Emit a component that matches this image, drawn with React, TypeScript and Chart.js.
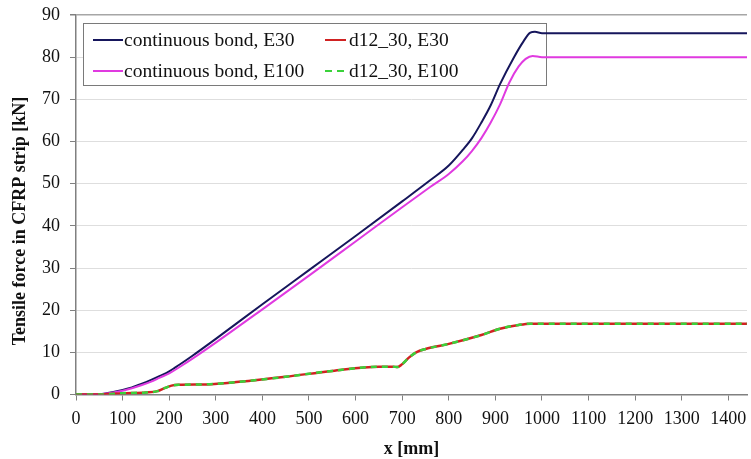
import React, { useEffect, useRef } from "react";
import { Chart, registerables } from "chart.js";

Chart.register(...registerables);

// ---------- data ----------
const xTicks = [0, 100, 200, 300, 400, 500, 600, 700, 800, 900, 1000, 1100, 1200, 1300, 1400];
const yTicks = [0, 10, 20, 30, 40, 50, 60, 70, 80, 90];

const contE30X = [0, 40, 60, 80, 100, 120, 140, 160, 180, 200, 225, 250, 300, 400, 500, 600, 700, 760, 800, 830, 850, 870, 890, 910, 940, 960, 975, 985, 1000, 1440];
const contE30Y = [0, 0, 0.2, 0.6, 1.1, 1.7, 2.5, 3.4, 4.4, 5.5, 7.3, 9.2, 13.2, 21.4, 29.5, 37.6, 45.8, 50.8, 54.3, 58.0, 60.8, 64.5, 68.6, 73.6, 80.0, 83.7, 85.8, 86.0, 85.7, 85.7];

const contE100X = [0, 40, 60, 80, 100, 120, 140, 160, 180, 200, 225, 250, 300, 400, 500, 600, 700, 760, 800, 830, 850, 870, 890, 910, 930, 950, 965, 980, 1000, 1440];
const contE100Y = [0, 0, 0.2, 0.5, 0.9, 1.5, 2.2, 3.0, 4.0, 5.0, 6.7, 8.5, 12.3, 20.2, 28.2, 36.3, 44.4, 49.2, 52.3, 55.3, 57.8, 60.8, 64.5, 68.8, 74.0, 77.8, 79.6, 80.3, 80.0, 80.0];

const d12E30X = [0, 50, 100, 150, 175, 190, 205, 220, 280, 350, 450, 550, 650, 680, 690, 700, 715, 730, 750, 800, 870, 910, 950, 975, 1440];
const d12E30Y = [0, 0, 0.3, 0.5, 0.8, 1.5, 2.1, 2.3, 2.4, 3.0, 4.2, 5.6, 6.6, 6.6, 6.5, 7.2, 8.8, 10.0, 10.8, 12.0, 14.1, 15.6, 16.5, 16.8, 16.8];

const d12E100X = [0, 50, 100, 150, 175, 190, 205, 220, 280, 350, 450, 550, 650, 680, 690, 700, 715, 730, 750, 800, 870, 910, 950, 975, 1440];
const d12E100Y = [0, 0, 0.3, 0.5, 0.8, 1.5, 2.1, 2.3, 2.4, 3.0, 4.2, 5.6, 6.6, 6.6, 6.5, 7.2, 8.8, 10.0, 10.8, 12.0, 14.1, 15.6, 16.5, 16.8, 16.8];

const seriesLabels = ["continuous bond, E30", "d12_30, E30", "continuous bond, E100", "d12_30, E100"];
const xTitle = "x [mm]";
const yTitle = "Tensile force in CFRP strip [kN]";

// ---------- styles ----------
const NAVY = "#16165c";
const MAGENTA = "#e03ae0";
const RED = "#d02222";
const GREEN = "#3ad23a";
const FONT = "'Liberation Serif', 'Times New Roman', serif";

const pts = (xs: number[], ys: number[]) => xs.map((x, i) => ({ x, y: ys[i] }));

const overlayPlugin = {
  id: "overlay",
  beforeDatasetsDraw(chart: any) {
    const ctx = chart.ctx;
    ctx.save();
    // legend box
    const bx = 83.5, by = 23.5, bw = 463, bh = 62;
    ctx.fillStyle = "#ffffff";
    ctx.fillRect(bx, by, bw, bh);
    ctx.strokeStyle = "#7a7a7a";
    ctx.lineWidth = 1;
    ctx.strokeRect(bx, by, bw, bh);

    const entries = [
      { label: seriesLabels[0], color: NAVY, dash: [] as number[], x: 93, len: 30, tx: 124, y: 40 },
      { label: seriesLabels[1], color: RED, dash: [] as number[], x: 325, len: 21, tx: 349, y: 40 },
      { label: seriesLabels[2], color: MAGENTA, dash: [] as number[], x: 93, len: 30, tx: 124, y: 71 },
      { label: seriesLabels[3], color: GREEN, dash: [7, 5], x: 325, len: 21, tx: 349, y: 71 },
    ];
    ctx.font = `19.5px ${FONT}`;
    ctx.textBaseline = "middle";
    ctx.textAlign = "left";
    for (const e of entries) {
      ctx.beginPath();
      ctx.setLineDash(e.dash);
      ctx.strokeStyle = e.color;
      ctx.lineWidth = 2;
      ctx.moveTo(e.x, e.y);
      ctx.lineTo(e.x + e.len, e.y);
      ctx.stroke();
      ctx.setLineDash([]);
      ctx.fillStyle = "#111";
      ctx.fillText(e.label, e.tx, e.y + 1);
    }
    ctx.restore();
  },
  afterDraw(chart: any) {
    const ctx = chart.ctx;
    const area = chart.chartArea;
    ctx.save();
    ctx.fillStyle = "#111";
    ctx.font = `bold 18px ${FONT}`;
    ctx.textAlign = "center";
    ctx.textBaseline = "alphabetic";
    ctx.fillText(xTitle, (area.left + area.right) / 2, 453.5);
    ctx.translate(20, 221);
    ctx.rotate(-Math.PI / 2);
    ctx.textBaseline = "middle";
    ctx.fillText(yTitle, 0, 0);
    ctx.restore();
  },
};

export default function App() {
  const ref = useRef<HTMLCanvasElement | null>(null);

  useEffect(() => {
    document.body.style.margin = "0";
    const canvas = ref.current;
    if (!canvas) return;
    const chart = new Chart(canvas, {
      type: "line",
      data: {
        datasets: [
          {
            label: seriesLabels[3],
            data: pts(d12E100X, d12E100Y),
            borderColor: GREEN,
            borderWidth: 2.5,
            borderDash: [6, 5],
            order: 0,
          },
          {
            label: seriesLabels[1],
            data: pts(d12E30X, d12E30Y),
            borderColor: RED,
            borderWidth: 2.5,
            order: 1,
          },
          {
            label: seriesLabels[2],
            data: pts(contE100X, contE100Y),
            borderColor: MAGENTA,
            borderWidth: 2,
            order: 2,
          },
          {
            label: seriesLabels[0],
            data: pts(contE30X, contE30Y),
            borderColor: NAVY,
            borderWidth: 2,
            order: 3,
          },
        ],
      },
      options: {
        animation: false,
        responsive: false,
        maintainAspectRatio: false,
        devicePixelRatio: 1,
        events: [],
        elements: {
          point: { radius: 0 },
          line: { cubicInterpolationMode: "monotone", fill: false },
        },
        layout: { padding: { top: 15, right: 4, left: 0, bottom: 0 } },
        plugins: { legend: { display: false }, tooltip: { enabled: false }, title: { display: false } },
        scales: {
          x: {
            type: "linear",
            min: 0,
            max: 1440,
            afterBuildTicks: (scale: any) => {
              scale.ticks = xTicks.map((v) => ({ value: v }));
            },
            afterFit: (scale: any) => {
              scale.height = 64.5;
              scale.paddingLeft = 0;
              scale.paddingRight = 0;
            },
            grid: { drawOnChartArea: false, drawTicks: true, tickLength: 6, tickColor: "#808080" },
            border: { color: "#808080", width: 1.5 },
            ticks: {
              autoSkip: false,
              maxRotation: 0,
              padding: 8,
              color: "#111",
              font: { family: FONT, size: 18 },
              callback: (v: any) => String(v),
            },
          },
          y: {
            type: "linear",
            min: 0,
            max: 90,
            afterBuildTicks: (scale: any) => {
              scale.ticks = yTicks.map((v) => ({ value: v }));
            },
            afterFit: (scale: any) => {
              scale.width = 76;
              scale.paddingTop = 0;
              scale.paddingBottom = 0;
            },
            grid: {
              drawTicks: true,
              tickLength: 6,
              tickColor: "#808080",
              color: (c: any) => (c.tick && c.tick.value === 90 ? "#a6a6a6" : "#dedede"),
              lineWidth: (c: any) => (c.tick && c.tick.value === 90 ? 1.5 : 1),
            },
            border: { color: "#808080", width: 1.5 },
            ticks: {
              padding: 10,
              color: "#111",
              font: { family: FONT, size: 18 },
              callback: (v: any) => String(v),
            },
          },
        },
      },
      plugins: [overlayPlugin],
    } as any);
    return () => chart.destroy();
  }, []);

  return (
    <div style={{ width: 751, height: 459, position: "relative" }}>
      <canvas ref={ref} width={751} height={459} style={{ display: "block", width: 751, height: 459 }} />
    </div>
  );
}
